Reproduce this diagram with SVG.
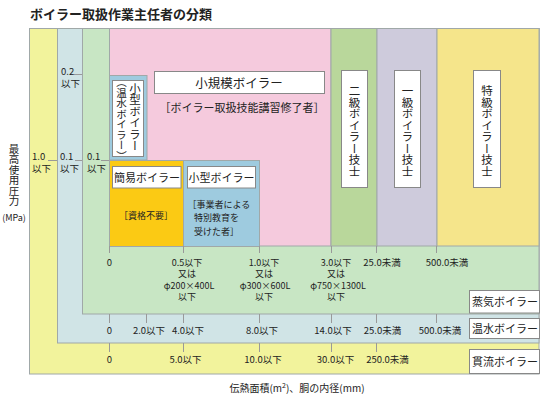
<svg xmlns="http://www.w3.org/2000/svg" width="540" height="400" viewBox="0 0 540 400">
<style>
text{font-family:"Noto Sans CJK JP","Noto Sans",sans-serif;fill:#222}
.ln{stroke:#999;stroke-width:1;fill:none}
.rg{stroke:#a0a8a8;stroke-width:1}
.box{fill:#fff;stroke:#888;stroke-width:1}
.t{font-size:9.5px;text-anchor:middle}
.s{font-size:9px;text-anchor:middle}
.v{writing-mode:vertical-rl;text-anchor:middle;dominant-baseline:central}
.h{font-feature-settings:"halt"}
</style>
<rect width="540" height="400" fill="#fff"/>
<text x="30" y="19" font-size="13" font-weight="bold">ボイラー取扱作業主任者の分類</text>

<g id="kanryu-region"><rect class="rg" x="29.5" y="28.5" width="509.5" height="345.5" fill="#f2f39c"/></g>
<g id="onsui-region"><rect class="rg" x="57.5" y="28.5" width="481.5" height="314.5" fill="#d0e4e6"/></g>
<g id="jouki-region"><rect class="rg" x="82.5" y="28.5" width="456.5" height="285.5" fill="#c8e6c4"/></g>
<g id="shokibo"><rect class="rg" x="109.5" y="28.5" width="221.5" height="217.5" fill="#f5cadd"/>
<rect class="box" x="154.5" y="71.5" width="170" height="22"/>
<text x="239" y="87.5" font-size="12.5" text-anchor="middle">小規模ボイラー</text>
<text class="h" x="242" y="112" font-size="11" text-anchor="middle">［ボイラー取扱技能講習修了者］</text></g>
<g id="nikyu"><rect class="rg" x="331" y="28.5" width="46" height="217.5" fill="#b9d79b"/>
<rect class="box" x="341.5" y="70.5" width="26" height="117"/>
<text class="v" x="354.5" y="131" font-size="11.5">二級ボイラー技士</text></g>
<g id="ikkyu"><rect class="rg" x="377" y="28.5" width="60" height="217.5" fill="#cecbdc"/>
<rect class="box" x="394.5" y="70.5" width="26" height="117"/>
<text class="v" x="407.5" y="131" font-size="11.5">一級ボイラー技士</text></g>
<g id="tokkyu"><rect class="rg" x="437" y="28.5" width="102" height="217.5" fill="#f5e58b"/>
<rect class="box" x="473.5" y="70.5" width="27" height="117"/>
<text class="v" x="487" y="131" font-size="11.5">特級ボイラー技士</text></g>
<g id="kogata-onsui"><rect class="rg" x="109.5" y="75.5" width="37.5" height="84.5" fill="#9ecbdf"/>
<rect class="box" x="112.5" y="80.5" width="31" height="76"/>
<text class="v" x="135" y="117" font-size="11.5">小型ボイラー</text>
<text class="v" x="121.5" y="119" font-size="10.5">（温水ボイラー）</text></g>
<g id="kan-i"><rect class="rg" x="109.5" y="160.5" width="74" height="86" fill="#fbca14"/>
<rect class="box" x="112.5" y="166.5" width="68.5" height="21.5"/>
<text x="147" y="182" font-size="11" text-anchor="middle">簡易ボイラー</text>
<text class="h" x="146" y="219" font-size="9" text-anchor="middle">［資格不要］</text></g>
<g id="kogata"><rect class="rg" x="183.5" y="160.5" width="76" height="86" fill="#9ecbdf"/>
<rect class="box" x="187.5" y="166.5" width="68" height="21.5"/>
<text x="221.5" y="182" font-size="11" text-anchor="middle">小型ボイラー</text>
<text class="h" x="192" y="207.5" font-size="9">［事業者による</text>
<text x="194" y="221" font-size="9">特別教育を</text>
<text class="h" x="194" y="234.5" font-size="9">受けた者］</text></g>

<g id="connectors">
<path class="ln" d="M74 74.5H82M48 160.5H57M75 160.5H82M101 160.5H109"/>
<path class="ln" d="M109.5 246V253M183.5 246V253M259.5 246V253M331.5 246V253M376.5 246V253M436.5 246V253"/>
<path class="ln" d="M109.5 314V323M146.5 314V323M183.5 314V323M259.5 314V323M331.5 314V323M376.5 314V323M436.5 314V323"/>
<path class="ln" d="M109.5 343V352M183.5 343V352M259.5 343V352M331.5 343V352M376.5 343V352"/>
</g>

<g id="pressure-labels">
<text x="61" y="75" font-size="9.5">0.2</text><text x="61" y="87" font-size="9.5">以下</text>
<text x="32" y="159.5" font-size="9.5">1.0</text><text x="32" y="171.5" font-size="9.5">以下</text>
<text x="60" y="159.5" font-size="9.5">0.1</text><text x="60" y="171.5" font-size="9.5">以下</text>
<text x="87" y="159.5" font-size="9.5">0.1</text><text x="87" y="171.5" font-size="9.5">以下</text>
</g>
<g id="axis-y">
<text class="v" x="14" y="175" font-size="10.5">最高使用圧力</text>
<text x="14" y="221" font-size="9" text-anchor="middle">(MPa)</text>
</g>

<g id="jouki-labels">
<text class="t" x="109.5" y="266">0</text>
<text class="s" x="187" y="265.5">0.5以下</text><text class="s" x="187" y="277">又は</text><text class="s" x="189" y="288.5">φ200×400L</text><text class="s" x="187" y="300">以下</text>
<text class="s" x="264" y="265.5">1.0以下</text><text class="s" x="264" y="277">又は</text><text class="s" x="265" y="288.5">φ300×600L</text><text class="s" x="264" y="300">以下</text>
<text class="s" x="336" y="265.5">3.0以下</text><text class="s" x="336" y="277">又は</text><text class="s" x="338" y="288.5">φ750×1300L</text><text class="s" x="336" y="300">以下</text>
<text class="t" x="382" y="266">25.0未満</text>
<text class="t" x="447" y="266">500.0未満</text>
<rect class="box" x="469.5" y="290.5" width="70" height="22.5"/>
<text x="472" y="306" font-size="11">蒸気ボイラー</text>
</g>
<g id="onsui-labels">
<text class="t" x="109.5" y="334">0</text>
<text class="t" x="149" y="334">2.0以下</text>
<text class="t" x="188" y="334">4.0以下</text>
<text class="t" x="262" y="334">8.0以下</text>
<text class="t" x="333" y="334">14.0以下</text>
<text class="t" x="382.5" y="334">25.0未満</text>
<text class="t" x="440" y="334">500.0未満</text>
<rect class="box" x="469.5" y="318.5" width="70" height="20"/>
<text x="472" y="332.5" font-size="11">温水ボイラー</text>
</g>
<g id="kanryu-labels">
<text class="t" x="109.5" y="363">0</text>
<text class="t" x="185.5" y="363">5.0以下</text>
<text class="t" x="263" y="363">10.0以下</text>
<text class="t" x="335.5" y="363">30.0以下</text>
<text class="t" x="387.5" y="363">250.0未満</text>
<rect class="box" x="469.5" y="349.5" width="70" height="24"/>
<text x="472" y="366" font-size="11">貫流ボイラー</text>
</g>
<text x="297" y="392" font-size="10" text-anchor="middle">伝熱面積(m<tspan font-size="7" dy="-4">2</tspan><tspan dy="4">)、胴の内径(mm)</tspan></text>
</svg>
